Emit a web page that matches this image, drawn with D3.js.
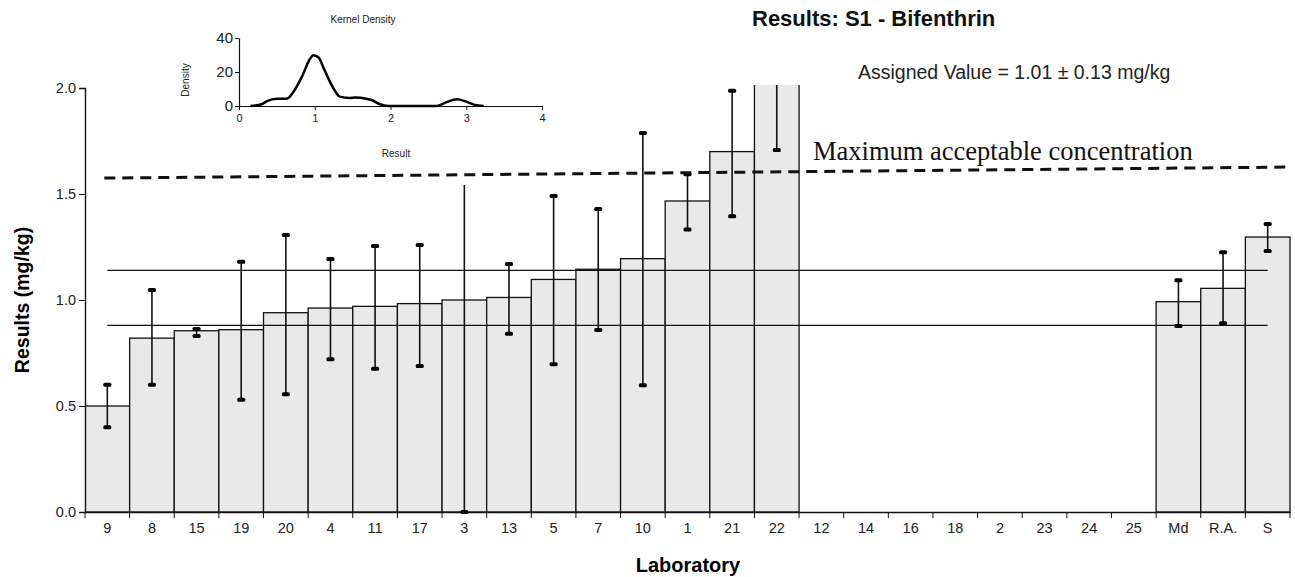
<!DOCTYPE html>
<html>
<head>
<meta charset="utf-8">
<script src="https://cdn.jsdelivr.net/npm/d3@7"></script>
<style>
  body { margin: 0; background: #fff; }
  svg { display: block; font-family: "Liberation Sans", Arial, sans-serif; }
</style>
</head>
<body>
<svg width="1295" height="577"></svg>
<script>
// Laboratories in plotted order
const labs = ["9", "8", "15", "19", "20", "4", "11", "17", "3", "13", "5", "7", "10", "1", "21", "22",
  "12", "14", "16", "18", "2", "23", "24", "25", "Md", "R.A.", "S"];

// reported results (mg/kg), null = no result
const results = [0.50, 0.82, 0.855, 0.86, 0.94, 0.962, 0.97, 0.983, 1.00, 1.012, 1.097, 1.145, 1.195, 1.467, 1.70, 2.90,
  null, null, null, null, null, null, null, null, 0.992, 1.055, 1.297];

// uncertainty range
const errLow = [0.40, 0.60, 0.83, 0.53, 0.555, 0.72, 0.676, 0.689, 0.00, 0.841, 0.697, 0.858, 0.598, 1.333, 1.395, 1.708,
  null, null, null, null, null, null, null, null, 0.877, 0.89, 1.231];
const errHigh = [0.60, 1.047, 0.863, 1.18, 1.307, 1.193, 1.255, 1.26, 2.00, 1.17, 1.49, 1.429, 1.788, 1.593, 1.987, 4.09,
  null, null, null, null, null, null, null, null, 1.093, 1.225, 1.358];

const assignedValue = 1.01;
const assignedUnc = 0.13;
const maxAcceptable = [1.575, 1.627]; // hand drawn line, left -> right
const yTicks = [0, 0.5, 1.0, 1.5, 2.0];

// kernel density inset
const kdX = [0.15, 0.3, 0.37, 0.5, 0.63, 0.72, 0.83, 0.94, 0.98, 1.05, 1.13, 1.24, 1.33, 1.46, 1.53, 1.68, 1.75, 1.86, 1.97,
  2.3, 2.61, 2.74, 2.88, 2.99, 3.1, 3.23];
const kdY = [0, 1, 2.9, 4.3, 4.3, 8.4, 17.2, 27.9, 29.9, 28.5, 21, 10.9, 5.5, 4.7, 5, 4.3, 3.5, 1, 0,
  0, 0, 2.3, 3.9, 2.7, 0.8, 0];
const kdXTicks = [0, 1, 2, 3, 4];
const kdYTicks = [0, 20, 40];

const svg = d3.select("svg");

const x = d3.scaleBand().domain(labs).range([85, 1290]).paddingInner(0).paddingOuter(0);
const y = d3.scaleLinear().domain([0, 2]).range([512, 88]);

// clip at the top of the plot (bar 22 runs off the scale)
svg.append("defs").append("clipPath").attr("id", "plotclip")
  .append("rect").attr("x", 85).attr("y", y(2) - 3).attr("width", 1210).attr("height", y(0) - y(2) + 8);

const plot = svg.append("g").attr("clip-path", "url(#plotclip)");

// bars
const idx = d3.range(labs.length).filter(i => results[i] != null);
plot.selectAll(".bar")
  .data(idx)
  .enter()
  .append("rect")
  .attr("class", "bar")
  .attr("x", i => x(labs[i]))
  .attr("y", i => y(results[i]))
  .attr("width", x.bandwidth())
  .attr("height", i => y(0) - y(results[i]))
  .attr("fill", "#e9e9e9")
  .attr("stroke", "#111")
  .attr("stroke-width", 1.3);

// assigned value +/- uncertainty lines
const cx = l => x(l) + x.bandwidth() / 2;
plot.selectAll(".av")
  .data([assignedValue - assignedUnc, assignedValue + assignedUnc])
  .enter()
  .append("line")
  .attr("x1", cx(labs[0]))
  .attr("x2", cx(labs[labs.length - 1]))
  .attr("y1", d => y(d))
  .attr("y2", d => y(d))
  .attr("stroke", "#111")
  .attr("stroke-width", 1.3);

// error bars
plot.selectAll(".err")
  .data(idx)
  .enter()
  .append("line")
  .attr("x1", i => cx(labs[i]))
  .attr("x2", i => cx(labs[i]))
  .attr("y1", i => y(errLow[i]))
  .attr("y2", i => y(errHigh[i]))
  .attr("stroke", "#111")
  .attr("stroke-width", 1.6);

const caps = [];
idx.forEach(i => { caps.push([i, errLow[i]]); caps.push([i, errHigh[i]]); });
plot.selectAll(".cap")
  .data(caps)
  .enter()
  .append("rect")
  .attr("x", d => cx(labs[d[0]]) - 4)
  .attr("y", d => y(d[1]) - 2)
  .attr("width", 8)
  .attr("height", 4)
  .attr("rx", 1.5)
  .attr("fill", "#000");

// axes
const yAxis = svg.append("g")
  .attr("transform", "translate(85,0)")
  .call(d3.axisLeft(y).tickValues(yTicks).tickFormat(d3.format(".1f")).tickSizeOuter(0).tickSize(6));
const xAxis = svg.append("g")
  .attr("transform", `translate(0,${y(0)})`)
  .call(d3.axisBottom(x).tickSize(0).tickSizeOuter(0));

// ticks on category boundaries
xAxis.selectAll(".bound")
  .data(labs.concat(["end"]))
  .enter()
  .append("line")
  .attr("x1", (d, i) => 85 + i * x.bandwidth())
  .attr("x2", (d, i) => 85 + i * x.bandwidth())
  .attr("y1", 0)
  .attr("y2", 6)
  .attr("stroke", "#111");

[yAxis, xAxis].forEach(a => {
  a.select(".domain").attr("stroke", "#111").attr("stroke-width", 1.4);
  a.selectAll(".tick line").attr("stroke", "#111");
  a.selectAll("text").attr("font-family", "'Liberation Sans', Arial, sans-serif").attr("font-size", 14.5).attr("fill", "#222");
});
yAxis.selectAll("text").attr("x", -9);
xAxis.selectAll("text").attr("y", 11);

svg.append("text")
  .attr("transform", "translate(29,300) rotate(-90)")
  .attr("text-anchor", "middle")
  .attr("font-weight", "bold")
  .attr("font-size", 19.5)
  .text("Results (mg/kg)");

svg.append("text")
  .attr("x", 688).attr("y", 572)
  .attr("text-anchor", "middle")
  .attr("font-weight", "bold")
  .attr("font-size", 20)
  .text("Laboratory");

// inset: kernel density
const inset = svg.append("g");
inset.append("rect").attr("x", 165).attr("y", 0).attr("width", 440).attr("height", 185).attr("fill", "#fff");

const kx = d3.scaleLinear().domain([0, 4]).range([239, 542]);
const ky = d3.scaleLinear().domain([0, 40]).range([106, 38]);

const kxAxis = inset.append("g").attr("transform", "translate(0,106)")
  .call(d3.axisBottom(kx).tickValues(kdXTicks).tickFormat(d3.format("d")).tickSize(4).tickSizeOuter(0));
const kyAxis = inset.append("g").attr("transform", "translate(239,0)")
  .call(d3.axisLeft(ky).tickValues(kdYTicks).tickSize(4).tickSizeOuter(0));
[kxAxis, kyAxis].forEach(a => {
  a.select(".domain").attr("stroke", "#111").attr("stroke-width", 1.2);
  a.selectAll(".tick line").attr("stroke", "#111");
  a.selectAll("text").attr("font-family", "'Liberation Sans', Arial, sans-serif").attr("fill", "#222");
});
kxAxis.selectAll("text").attr("font-size", 11).attr("y", 8);
kyAxis.selectAll("text").attr("font-size", 15).attr("x", -6);

inset.append("path")
  .datum(d3.range(kdX.length))
  .attr("fill", "none")
  .attr("stroke", "#000")
  .attr("stroke-width", 2.5)
  .attr("d", d3.line().x(i => kx(kdX[i])).y(i => ky(kdY[i])).curve(d3.curveMonotoneX));

inset.append("text").attr("x", 363).attr("y", 23).attr("text-anchor", "middle")
  .attr("font-size", 10).attr("fill", "#222").text("Kernel Density");
inset.append("text").attr("transform", "translate(189,80) rotate(-90)").attr("text-anchor", "middle")
  .attr("font-size", 10).attr("fill", "#222").text("Density");
inset.append("text").attr("x", 396).attr("y", 157).attr("text-anchor", "middle")
  .attr("font-size", 10).attr("fill", "#222").text("Result");

// maximum acceptable concentration
svg.append("line")
  .attr("x1", cx(labs[0]) - 3)
  .attr("x2", 1290)
  .attr("y1", y(maxAcceptable[0]))
  .attr("y2", y(maxAcceptable[1]))
  .attr("stroke", "#111")
  .attr("stroke-width", 3)
  .attr("stroke-dasharray", "11,7");

svg.append("text")
  .attr("x", 813).attr("y", 160)
  .attr("font-family", "'Liberation Serif', 'Times New Roman', serif")
  .attr("font-size", 26.5)
  .attr("fill", "#111")
  .text("Maximum acceptable concentration");

// titles
svg.append("text")
  .attr("x", 752).attr("y", 26)
  .attr("font-weight", "bold")
  .attr("font-size", 22)
  .attr("fill", "#111")
  .text("Results: S1 - Bifenthrin");

svg.append("text")
  .attr("x", 858).attr("y", 79)
  .attr("font-size", 19.5)
  .attr("fill", "#222")
  .text("Assigned Value = 1.01 \u00b1 0.13 mg/kg");
</script>
</body>
</html>
